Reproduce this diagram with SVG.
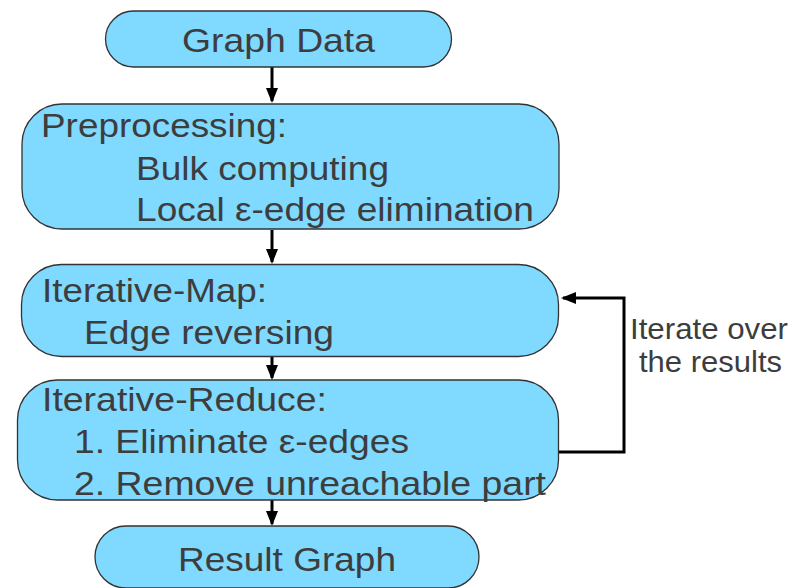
<svg xmlns="http://www.w3.org/2000/svg" width="798" height="588" viewBox="0 0 798 588">
<defs>
<style>
.n{fill:#80d9fe;stroke:#333;stroke-width:1.3}
.t{font-family:"Liberation Sans",Arial,sans-serif;font-size:34px;fill:#3d3d3d}
.s{font-family:"Liberation Sans",Arial,sans-serif;font-size:30px;fill:#3d3d3d}
.c{fill:none;stroke:#000;stroke-width:3}
</style>
<marker id="ah" markerWidth="15" markerHeight="12" refX="13" refY="6" orient="auto" markerUnits="userSpaceOnUse" viewBox="0 0 15 12">
<path d="M0,0 L15,6 L0,12 Z" fill="#000"/>
</marker>
</defs>
<rect width="798" height="588" fill="#fff"/>
<g id="connectors">
<line class="c" x1="272" y1="67" x2="272" y2="101" marker-end="url(#ah)"/>
<line class="c" x1="272" y1="230" x2="272" y2="262" marker-end="url(#ah)"/>
<line class="c" x1="272" y1="357" x2="272" y2="378" marker-end="url(#ah)"/>
<line class="c" x1="272" y1="500" x2="272" y2="524" marker-end="url(#ah)"/>
<polyline class="c" points="555,452 624,452 624,298 563,298" marker-end="url(#ah)"/>
</g>
<g id="graph-data">
<rect class="n" x="105.5" y="11" width="346" height="56" rx="28" ry="28"/>
<text class="t" x="182" y="52" textLength="193" lengthAdjust="spacingAndGlyphs">Graph Data</text>
</g>
<g id="preprocessing">
<rect class="n" x="22" y="104" width="537" height="125" rx="40" ry="40"/>
<text class="t" x="41" y="137" textLength="246" lengthAdjust="spacingAndGlyphs">Preprocessing:</text>
<text class="t" x="136" y="180" textLength="253" lengthAdjust="spacingAndGlyphs">Bulk computing</text>
<text class="t" x="136" y="221" textLength="398" lengthAdjust="spacingAndGlyphs">Local ε-edge elimination</text>
</g>
<g id="iterative-map">
<rect class="n" x="21.5" y="264.5" width="537" height="92" rx="40" ry="40"/>
<text class="t" x="42" y="302" textLength="225" lengthAdjust="spacingAndGlyphs">Iterative-Map:</text>
<text class="t" x="84" y="344" textLength="250" lengthAdjust="spacingAndGlyphs">Edge reversing</text>
</g>
<g id="iterative-reduce">
<rect class="n" x="17.5" y="380" width="541" height="120" rx="40" ry="40"/>
<text class="t" x="42" y="411" textLength="285" lengthAdjust="spacingAndGlyphs">Iterative-Reduce:</text>
<text class="t" x="74" y="453" textLength="335" lengthAdjust="spacingAndGlyphs">1. Eliminate ε-edges</text>
<text class="t" x="74" y="495" textLength="472" lengthAdjust="spacingAndGlyphs">2. Remove unreachable part</text>
</g>
<g id="result-graph">
<rect class="n" x="95" y="526" width="384" height="62" rx="31" ry="31"/>
<text class="t" x="178" y="571" textLength="218" lengthAdjust="spacingAndGlyphs">Result Graph</text>
</g>
<g id="loop-label">
<text class="s" x="630" y="339" textLength="158" lengthAdjust="spacingAndGlyphs">Iterate over</text>
<text class="s" x="639" y="372" textLength="143" lengthAdjust="spacingAndGlyphs">the results</text>
</g>
</svg>
